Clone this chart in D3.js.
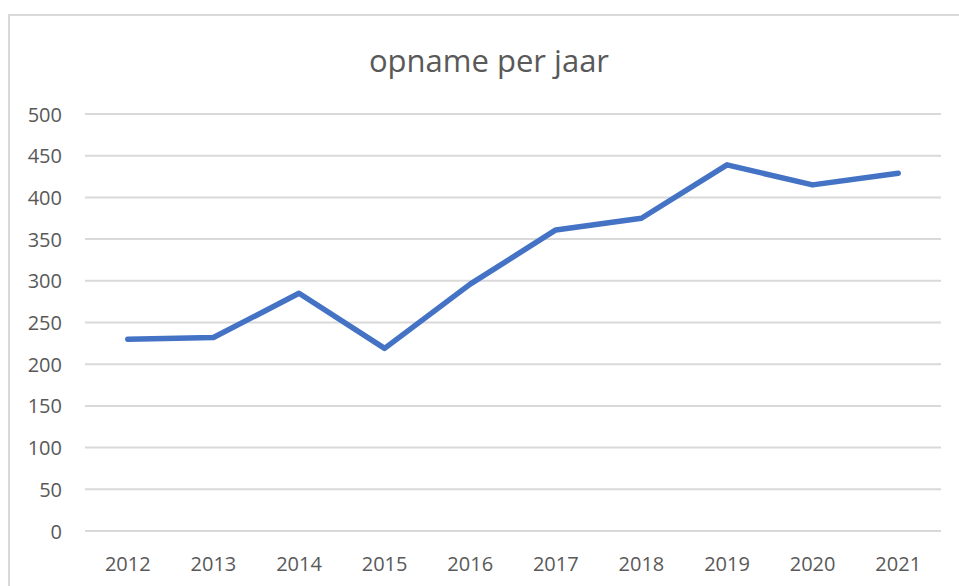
<!DOCTYPE html>
<html>
<head>
<meta charset="utf-8">
<script src="https://cdn.jsdelivr.net/npm/d3@7"></script>
<style>
  body { margin: 0; background: #fff; }
  svg { display: block; font-family: "Open Sans", "Noto Sans", sans-serif; }
</style>
</head>
<body>
<svg id="chart" width="959" height="586"></svg>
<script>
// data
const years = ['2012', '2013', '2014', '2015', '2016', '2017', '2018', '2019', '2020', '2021']
const opname = [230, 232, 285, 219, 296, 361, 375, 439, 415, 429]
const yTicks = [0, 50, 100, 150, 200, 250, 300, 350, 400, 450, 500]
const title = 'opname per jaar'

const font = '"Open Sans", "Noto Sans", sans-serif'
const svg = d3.select('#chart')

// chart frame (only left and top visible)
svg.append('rect')
    .attr('x', 9).attr('y', 15)
    .attr('width', 1000).attr('height', 700)
    .attr('fill', 'none')
    .attr('stroke', '#d9d9d9')
    .attr('stroke-width', 2)

const plotLeft = 85, plotRight = 941, plotTop = 114, plotBottom = 531

const x = d3.scaleBand().domain(years).range([plotLeft, plotRight])
const y = d3.scaleLinear().domain([0, 500]).range([plotBottom, plotTop])

// gridlines
svg.append('g')
    .selectAll('line')
    .data(yTicks)
    .enter().append('line')
    .attr('x1', plotLeft).attr('x2', plotRight)
    .attr('y1', d => y(d)).attr('y2', d => y(d))
    .attr('stroke', '#d9d9d9')
    .attr('stroke-width', 2)

// y axis
const yAxis = svg.append('g')
    .attr('transform', `translate(${plotLeft - 23},0)`)
    .call(d3.axisLeft(y).tickValues(yTicks).tickSize(0).tickPadding(0))
    .attr('font-family', font)
yAxis.select('.domain').remove()
yAxis.selectAll('text')
    .attr('fill', '#595959')
    .style('font-size', '20px')
    .attr('dy', '0.35em')

// x axis
const xAxis = svg.append('g')
    .attr('transform', `translate(0,${plotBottom})`)
    .call(d3.axisBottom(x).tickSize(0).tickPadding(0))
    .attr('font-family', font)
xAxis.select('.domain').remove()
xAxis.selectAll('text')
    .attr('fill', '#595959')
    .style('font-size', '20px')
    .attr('y', 40)
    .attr('dy', 0)

// the line
const line = d3.line()
    .x((d, i) => x(years[i]) + x.bandwidth() / 2)
    .y(d => y(d))

svg.append('path')
    .datum(opname)
    .attr('d', line)
    .attr('fill', 'none')
    .attr('stroke', '#4472c4')
    .attr('stroke-width', 5.5)
    .attr('stroke-linecap', 'round')
    .attr('stroke-linejoin', 'round')

// title
svg.append('text')
    .attr('x', 489)
    .attr('y', 72)
    .attr('text-anchor', 'middle')
    .attr('fill', '#595959')
    .style('font-size', '31px')
    .text(title)
</script>
</body>
</html>
